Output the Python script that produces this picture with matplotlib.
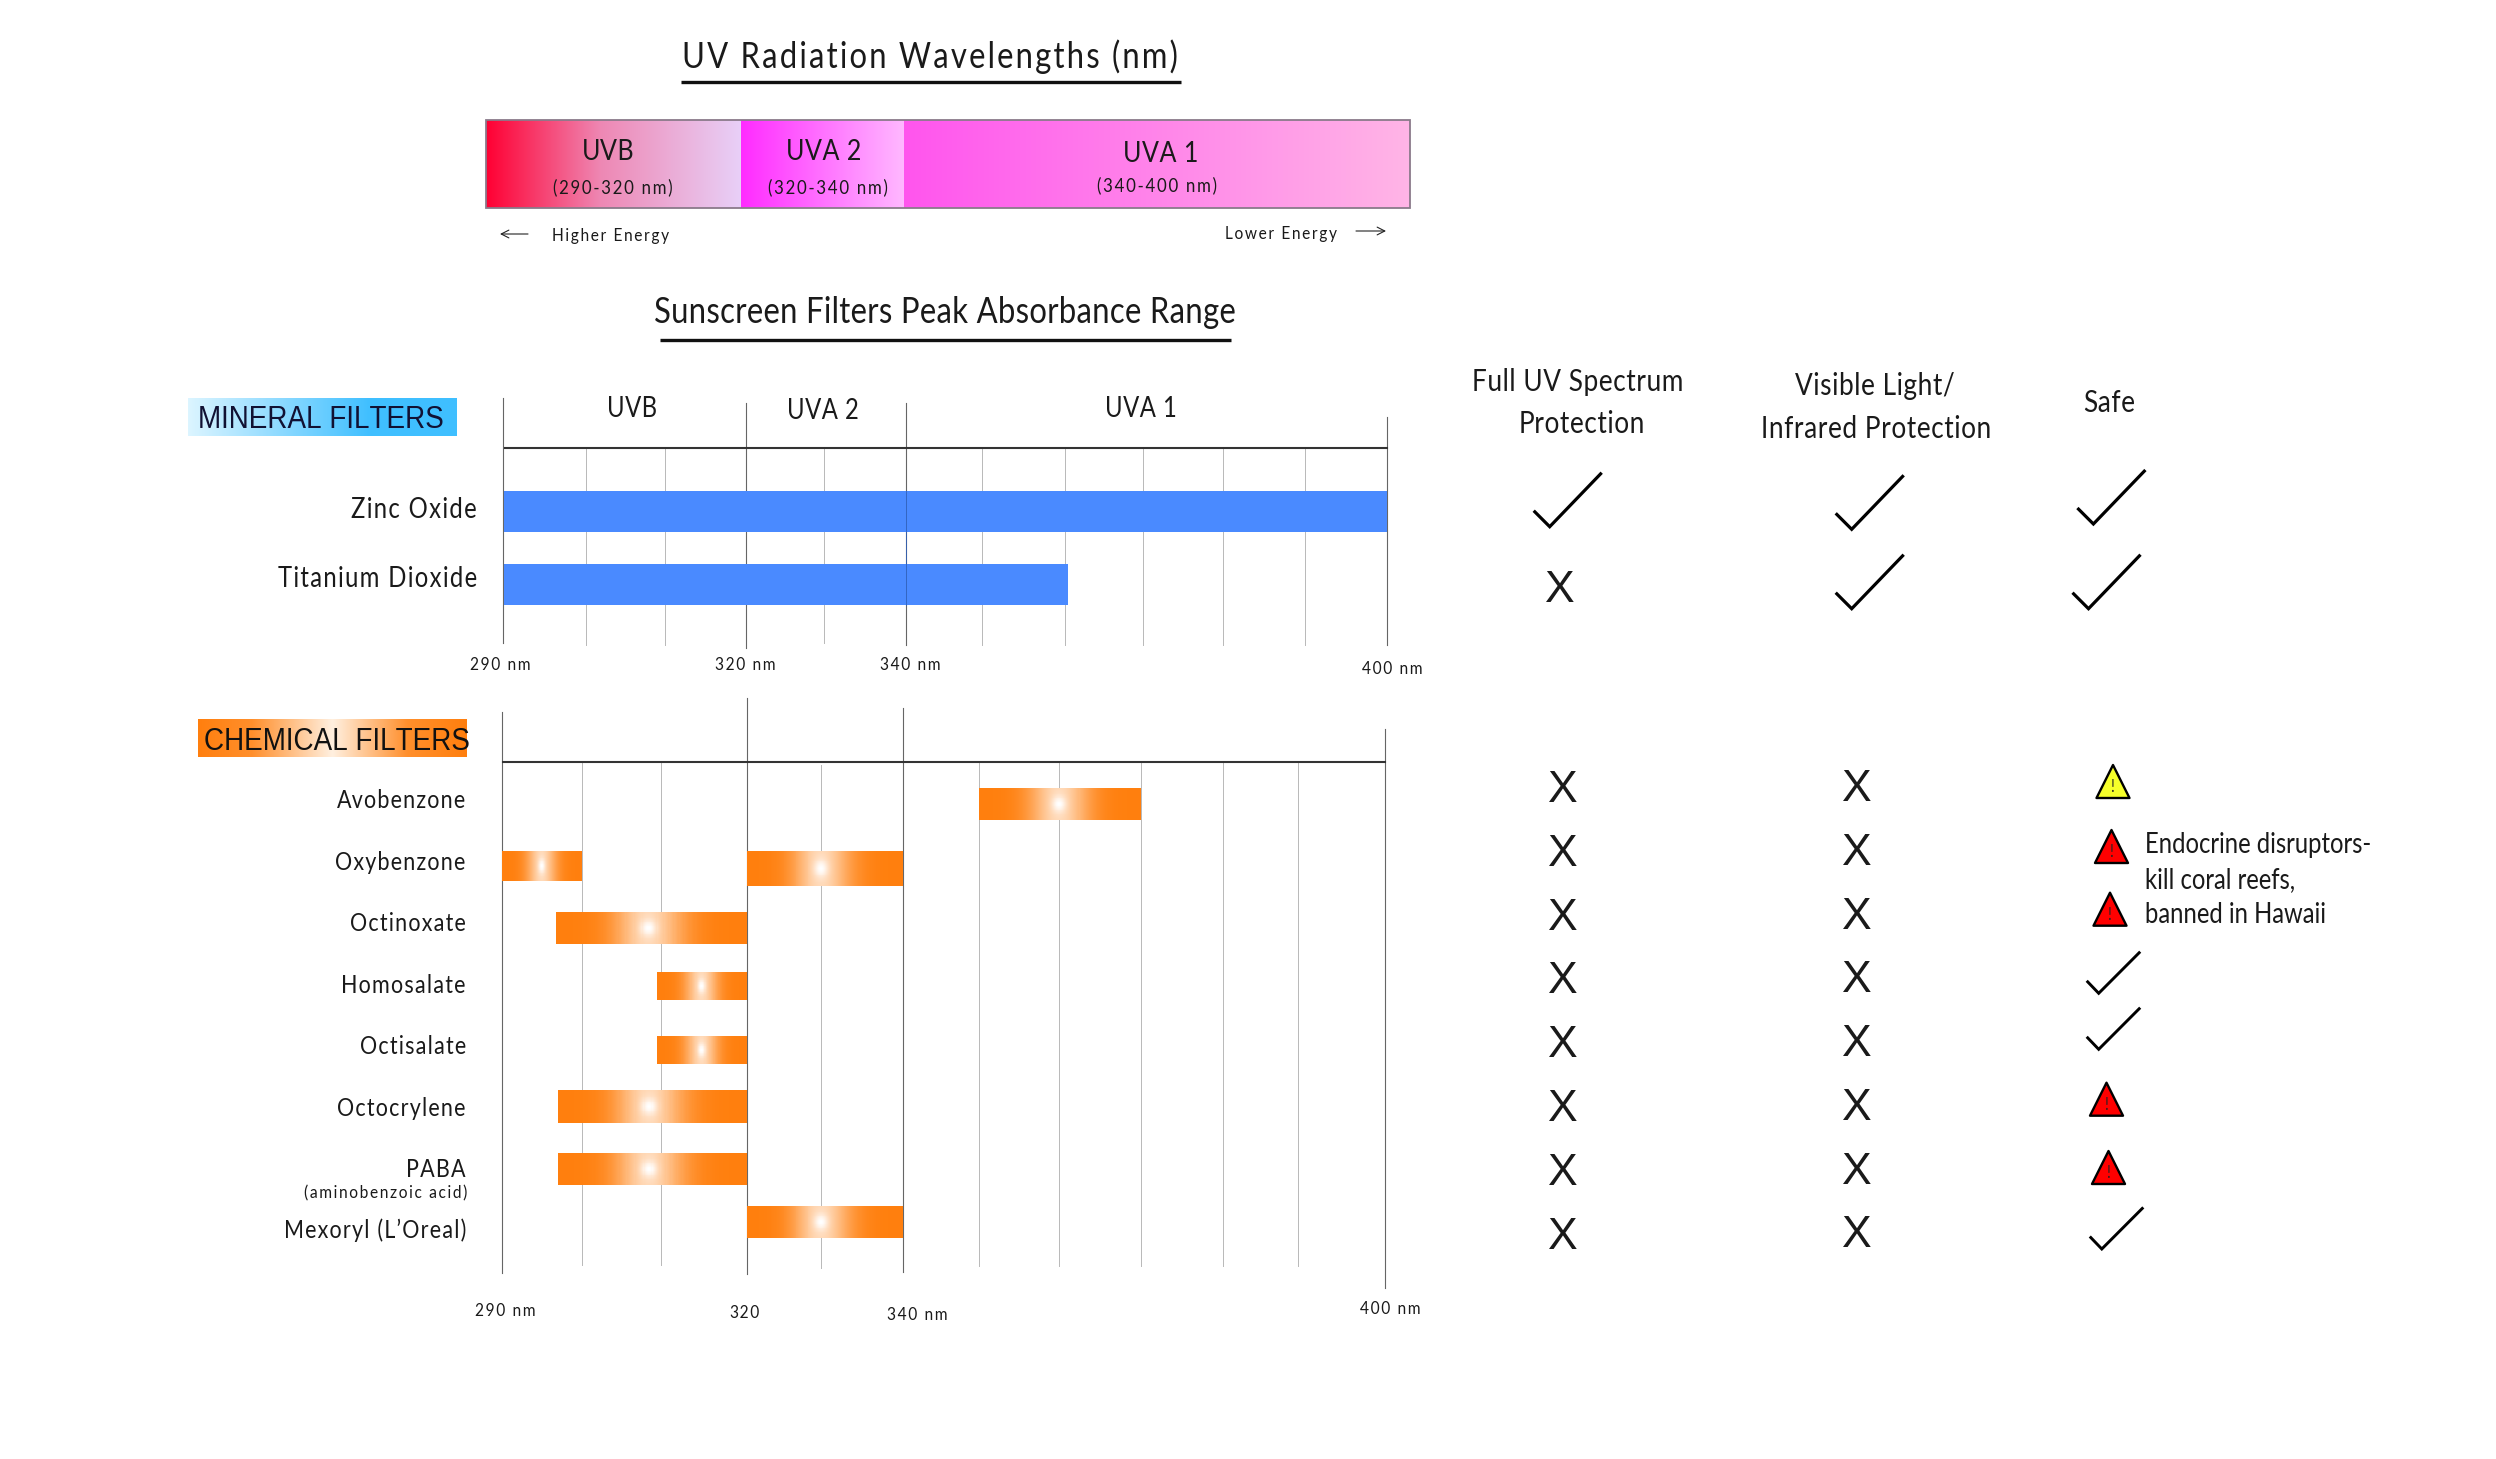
import os
import tempfile
import numpy as np
import matplotlib
matplotlib.use('Agg')
import matplotlib.pyplot as plt
from matplotlib import font_manager
from matplotlib.colors import LinearSegmentedColormap
from matplotlib.patches import Rectangle, Polygon
from fontTools.ttLib import TTFont

W, H = 2496, 1459

# data
uv_bands = ['UVB', 'UVA 2', 'UVA 1']
uv_ranges = ['(290-320 nm)', '(320-340 nm)', '(340-400 nm)']
grid_nm = [290, 300, 310, 320, 330, 340, 350, 360, 370, 380, 390, 400]

mineral_names = ['Zinc Oxide', 'Titanium Dioxide']
mineral_start = [290, 290]
mineral_end = [400, 360.4]
mineral_full_uv = ['check', 'x']
mineral_visible = ['check', 'check']
mineral_safe = ['check', 'check']

chemical_names = ['Avobenzone', 'Oxybenzone', 'Octinoxate', 'Homosalate',
                  'Octisalate', 'Octocrylene', 'PABA', 'Mexoryl (L\u2019Oreal)']
chemical_ranges = [[(350, 370)], [(290, 300), (320, 340)], [(296.8, 320)], [(309.5, 320)],
                   [(309.5, 320)], [(297, 320)], [(297, 320)], [(320, 340)]]
chemical_safe = ['yellow', 'red', 'red', 'check', 'check', 'red', 'red', 'check']
note_lines = ['Endocrine disruptors-', 'kill coral reefs,', 'banned in Hawaii']

# layout, in pixels of the reference
mineral_px = [503.5, 585.6, 665, 746, 823.6, 906, 982, 1065, 1143, 1223, 1305, 1387]
chemical_px = [501.6, 582, 661, 746.5, 820.5, 902.6, 979, 1059, 1141, 1223, 1297.5, 1385]
mineral_line_y = [(398, 643), (448, 645), (448, 645), (403, 648), (448, 643), (403, 645),
                  (448, 645), (448, 645), (448, 645), (448, 645), (448, 645), (417, 645)]
chemical_line_y = [(712, 1273), (762, 1265), (762, 1265), (698, 1274), (765, 1268), (708, 1272),
                   (762, 1266), (762, 1266), (762, 1266), (762, 1266), (762, 1266), (729, 1288)]
mineral_bar_y = [(491, 532), (564, 605)]
chemical_bar_y = [[(788, 820)], [(851, 881), (851, 886)], [(912, 944)], [(972, 1000)],
                  [(1036, 1064)], [(1090, 1123)], [(1153, 1185)], [(1206, 1238)]]
chemical_label_y = [799, 861, 922, 984, 1045, 1107, 1168, 1229]
x_col1_y = [786, 850, 914, 977, 1041, 1105, 1169, 1233]
x_col2_y = [785, 849, 913, 976, 1040, 1104, 1168, 1231]
safe_tri = [(2113, 765), (2111.5, 830), (2110, 892.7), None, None, (2106.5, 1082.7), (2108.5, 1151), None]
safe_tick = [None, None, None, (2098.7, 993.3), (2098.7, 1049.3), None, None, (2101.8, 1249)]


def condensed_font(base, family, factor, tracking=0.0):
    # no condensed family is installed, so squeeze a copy of one
    f = TTFont(font_manager.findfont(base))
    glyf, hmtx = f['glyf'], f['hmtx']
    extra = round(tracking * f['head'].unitsPerEm)
    for name in f.getGlyphOrder():
        g = glyf[name]
        if g.isComposite():
            for c in g.components:
                c.x = round(c.x * factor)
        elif g.numberOfContours > 0:
            g.coordinates.scale((factor, 1))
            g.coordinates.toInt()
        adv, lsb = hmtx[name]
        hmtx[name] = (max(round(adv * factor) + extra, 0), round(lsb * factor))
    for tag in ['kern', 'GPOS', 'GSUB', 'gvar', 'fvar', 'HVAR', 'avar', 'STAT', 'hdmx', 'VDMX', 'LTSH']:
        if tag in f:
            del f[tag]
    for rec in f['name'].names:
        if rec.nameID in (1, 4, 6, 16):
            rec.string = family
    path = os.path.join(tempfile.mkdtemp(), family + '.ttf')
    f.save(path)
    font_manager.fontManager.addfont(path)
    return family


F_TITLE = condensed_font('Lato', 'LatoCondTitle', 0.86, 0.06)
F_TITLE2 = condensed_font('Lato', 'LatoCondTitle2', 0.86, 0.008)
F_HEAD = condensed_font('Lato', 'LatoCondHead', 0.86, 0.018)
F_ROW = condensed_font('Lato', 'LatoCondRow', 0.86, 0.048)
F_SMALL = condensed_font('Lato', 'LatoCondSmall', 0.86, 0.09)
F_NOTE = condensed_font('Lato', 'LatoCondNote', 0.86, 0.0)
F_CAPS = condensed_font('Liberation Sans', 'SansCond', 0.87)

fig = plt.figure(figsize=(W / 100, H / 100), dpi=100, facecolor='white')


def make_panel(px, ytop, ybot):
    a = fig.add_axes([px[0] / W, 1 - ybot / H, (px[-1] - px[0]) / W, (ybot - ytop) / H])
    a.set_xscale('function', functions=(lambda v: np.interp(v, grid_nm, px),
                                        lambda v: np.interp(v, px, grid_nm)))
    a.set_xlim(290, 400)
    a.set_ylim(ybot, ytop)
    a.axis('off')
    return a


def draw_lines(a, line_y):
    for nm, (y0, y1) in zip(grid_nm, line_y):
        major = nm in (290, 320, 340, 400)
        a.plot([nm, nm], [y0, y1], color='#666666' if major else '#b8b8b8',
               lw=0.8 if major else 0.7, clip_on=False, zorder=1)


ax_min = make_panel(mineral_px, 395, 650)
draw_lines(ax_min, mineral_line_y)
ax_min.plot([290.2, 400], [448, 448], color='#333333', lw=1.5, clip_on=False, zorder=2)
for s, e, (y0, y1) in zip(mineral_start, mineral_end, mineral_bar_y):
    ax_min.fill_between([s, e], y0, y1, color='#4a8aff', lw=0, zorder=3)
ax_min.plot([340, 340], [491, 605], color='#2f5fb8', lw=0.6, zorder=4)

orange_cmap = LinearSegmentedColormap.from_list('o', ['#ff7f0e', '#ffffff'])
ax_chem = make_panel(chemical_px, 695, 1295)
draw_lines(ax_chem, chemical_line_y)
ax_chem.plot([290.2, 400], [762, 762], color='#333333', lw=1.5, clip_on=False, zorder=2)
for ranges, ys in zip(chemical_ranges, chemical_bar_y):
    for (s, e), (y0, y1) in zip(ranges, ys):
        xs = np.linspace(s, e, 161)
        yy = np.linspace(y0, y1, 41)
        xc = (xs[:-1] + xs[1:]) / 2
        yc = (yy[:-1] + yy[1:]) / 2
        dx = (xc - (s + e) / 2) / ((e - s) / 2)
        dy = (yc - (y0 + y1) / 2) / ((y1 - y0) / 2)
        gx, gy = np.meshgrid(dx, dy)
        glow = 0.7 * np.exp(-(gx / 0.36) ** 2) + 0.3 * np.exp(-(gx / 0.09) ** 2 - (gy / 0.5) ** 2)
        ax_chem.pcolormesh(xs, yy, glow, cmap=orange_cmap, vmin=0, vmax=1,
                           shading='flat', antialiased=False, zorder=3)

ax = fig.add_axes([0, 0, 1, 1])
ax.patch.set_alpha(0)


def label(x, y, s, size, ha='center', family=F_ROW, color='#1a1a1a', **kw):
    # y is the middle of the capitals
    ax.text(x, y + 0.5 * size, s, fontsize=size, ha=ha, va='baseline', family=family, color=color, **kw)


def gradient(x0, x1, y0, y1, colors, stops=None):
    cm = LinearSegmentedColormap.from_list('g', list(zip(stops, colors)) if stops else colors)
    ax.imshow(np.linspace(0, 1, 256).reshape(1, -1), extent=(x0, x1, y1, y0), cmap=cm,
              aspect='auto', interpolation='bilinear', zorder=1)


def check(x, y, dl, dr, lw=2.3):
    ax.plot([x + dl[0], x, x + dr[0]], [y + dl[1], y, y + dr[1]], color='black', lw=lw,
            solid_joinstyle='miter', solid_capstyle='butt', zorder=3)


def warning(x, y, fill):
    ax.add_patch(Polygon([(x, y), (x - 16.5, y + 33), (x + 16.5, y + 33)], closed=True,
                         facecolor=fill, edgecolor='black', lw=1.7, joinstyle='round', zorder=3))
    ax.text(x, y + 27, '!', fontsize=12, ha='center', va='baseline', family=F_NOTE, color='#222222', zorder=4)


# spectrum bar
gradient(485.5, 741, 120, 208, ['#ff0033', '#ee88b4', '#e8d0f8'], [0, 0.45, 1])
gradient(741, 904, 120, 208, ['#ff2bff', '#ffb8ff'])
gradient(904, 1409.5, 120, 208, ['#ff55ee', '#ffb5e6'])
ax.add_patch(Rectangle((485.5, 120), 924, 88, fill=False, edgecolor='#8a7a8a', lw=1.3, zorder=2))
for x, y, s in zip([608, 824, 1161], [149, 149, 152], uv_bands):
    label(x, y, s, 21, family=F_HEAD)
for x, y, s in zip([614, 829, 1158], [186, 186, 184], uv_ranges):
    label(x, y, s, 14, family=F_SMALL)

label(931, 55, 'UV Radiation Wavelengths (nm)', 26, family=F_TITLE)
ax.plot([681, 1181], [82, 82], color='#111111', lw=2.4, solid_capstyle='butt')
label(945, 310, 'Sunscreen Filters Peak Absorbance Range', 26, family=F_TITLE2)
ax.plot([660, 1231], [340, 340], color='#111111', lw=2.4, solid_capstyle='butt')

label(552, 235, 'Higher Energy', 13, ha='left', family=F_SMALL)
label(1225, 232, 'Lower Energy', 13, ha='left', family=F_SMALL)
for a, b, y in [(528, 500, 234), (1356, 1386, 231)]:
    ax.annotate('', xy=(b, y), xytext=(a, y),
                arrowprops=dict(arrowstyle='->,head_length=0.55,head_width=0.28', lw=0.8,
                                color='#222222', shrinkA=0, shrinkB=0))

# panel headers
gradient(188, 457, 398, 436, ['#dcf5ff', '#3fbfff', '#3fbfff'], [0, 0.68, 1])
label(321, 416, 'MINERAL FILTERS', 23, family=F_CAPS, color='#111133')
gradient(198, 467, 719, 757, ['#ff7f0e', '#ff8f2c', '#fff0e0', '#ff8f2c', '#ff7f0e'], [0, 0.2, 0.5, 0.78, 1])
label(337, 738, 'CHEMICAL FILTERS', 23, family=F_CAPS, color='#111111')
for x, y, s in zip([632, 823, 1141], [407, 409, 407], uv_bands):
    label(x, y, s, 20, family=F_HEAD)

for name, y in zip(mineral_names, [508, 577]):
    label(478, y, name, 20, ha='right')
for name, y in zip(chemical_names, chemical_label_y):
    label(467, y, name, 18, ha='right')
label(469.5, 1192, '(aminobenzoic acid)', 13, ha='right', family=F_SMALL)

for x, y, s in zip([501, 746, 911, 1393], [664, 664, 664, 667], ['290 nm', '320 nm', '340 nm', '400 nm']):
    label(x, y, s, 13, family=F_SMALL)
for x, y, s in zip([506, 745, 918, 1391], [1309, 1311, 1313, 1308], ['290 nm', '320', '340 nm', '400 nm']):
    label(x, y, s, 13, family=F_SMALL)

# right hand columns
label(1578, 380, 'Full UV Spectrum', 22, family=F_HEAD)
label(1582, 422, 'Protection', 22, family=F_HEAD)
label(1875, 384, 'Visible Light/', 22, family=F_HEAD)
label(1876, 427, 'Infrared Protection', 22, family=F_HEAD)
label(2109, 401, 'Safe', 22, family=F_HEAD)

large_l, large_r = (-16, -16), (52, -54)
if mineral_full_uv[0] == 'check':
    check(1549.7, 526.7, large_l, large_r)
if mineral_full_uv[1] == 'x':
    label(1560, 586, 'X', 32, family='Liberation Sans')
for y, v in zip([529.3, 608.7], mineral_visible):
    if v == 'check':
        check(1851.7, y, large_l, large_r)
for x, y, v in zip([2093.4, 2088.5], [524, 608.7], mineral_safe):
    if v == 'check':
        check(x, y, large_l, large_r)

for y in x_col1_y:
    label(1562.5, y, 'X', 32, family='Liberation Sans')
for y in x_col2_y:
    label(1857, y, 'X', 32, family='Liberation Sans')

for v, tri, tick in zip(chemical_safe, safe_tri, safe_tick):
    if v == 'yellow':
        warning(tri[0], tri[1], '#f6ff2a')
    elif v == 'red':
        warning(tri[0], tri[1], '#ff0000')
    else:
        check(tick[0], tick[1], (-12, -12.5), (41.5, -41.6), lw=2.1)

for y, s in zip([843, 878, 913], note_lines):
    label(2145, y, s, 20, ha='left', family=F_NOTE)

ax.set_xlim(0, W)
ax.set_ylim(H, 0)
ax.axis('off')
fig.savefig('out.png', dpi=100, facecolor='white')
